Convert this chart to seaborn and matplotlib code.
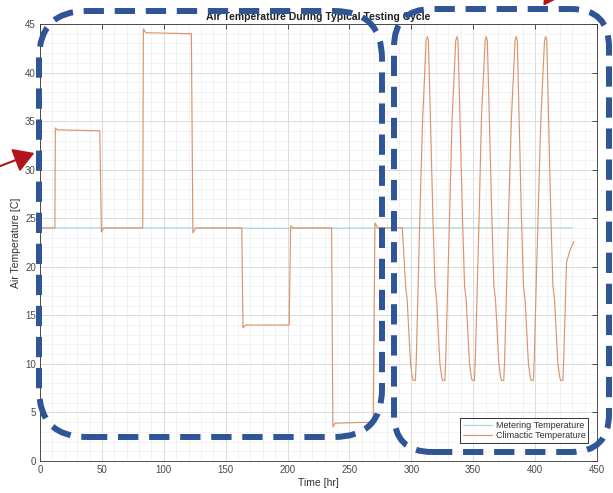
import numpy as np
import pandas as pd
import matplotlib
matplotlib.use("Agg")
import matplotlib.pyplot as plt
import seaborn as sns
from matplotlib.patches import FancyBboxPatch, FancyArrowPatch
from matplotlib.transforms import IdentityTransform
from matplotlib.ticker import MultipleLocator

# ---------------- data ----------------
series_labels = ["Metering Temperature", "Climactic Temperature"]

metering_time = [0.0, 100.0, 200.0, 300.0, 430.0]
metering_temp = [24.0, 24.0, 23.95, 24.0, 24.0]

climactic_time = [
    0.0, 12.0, 12.4, 14.0, 48.3, 49.6, 51.5, 83.0, 83.5, 85.5,
    122.3, 123.5, 126.0, 163.0, 164.0, 166.0, 201.3, 202.5, 205.0,
    235.6, 236.6, 238.5, 269.2, 270.6, 273.0, 292.7,
    295.4, 296.6, 299.4, 300.8, 301.5, 303.3, 304.0, 306.8, 309.1, 312.0, 312.9, 313.8,
    317.5, 319.1, 320.4, 323.1, 324.6, 325.3, 327.1, 327.8, 330.8, 332.9, 335.9, 336.8, 337.7,
    341.4, 343.0, 344.3, 347.0, 348.5, 349.2, 351.0, 351.7, 354.7, 356.6, 359.6, 360.5, 361.4,
    365.1, 366.7, 368.0, 370.7, 372.2, 372.9, 374.7, 375.4, 378.4, 380.8, 383.8, 384.7, 385.6,
    389.0, 390.6, 391.9, 394.6, 396.1, 396.8, 398.6, 399.3, 402.3, 404.6, 407.6, 408.5, 409.4,
    412.8, 414.4, 415.7, 418.4, 419.9, 420.6, 422.4, 423.1, 425.4, 428.5, 431.3,
]
climactic_temp = [
    24.0, 24.0, 34.3, 34.1, 34.0, 23.6, 24.0, 24.0, 44.5, 44.1,
    44.0, 23.5, 24.0, 24.0, 13.7, 14.0, 14.0, 24.2, 24.0,
    24.0, 3.5, 3.9, 4.0, 24.5, 24.0, 24.0,
    18.0, 16.6, 10.0, 8.6, 8.3, 8.3, 10.5, 24.8, 35.1, 43.3, 43.7, 43.3,
    24.8, 18.0, 16.6, 10.0, 8.6, 8.3, 8.3, 10.5, 24.8, 35.1, 43.3, 43.7, 43.3,
    24.8, 18.0, 16.6, 10.0, 8.6, 8.3, 8.3, 10.5, 24.8, 35.1, 43.3, 43.7, 43.3,
    24.8, 18.0, 16.6, 10.0, 8.6, 8.3, 8.3, 10.5, 24.8, 35.1, 43.3, 43.7, 43.3,
    24.8, 18.0, 16.6, 10.0, 8.6, 8.3, 8.3, 10.5, 24.8, 35.1, 43.3, 43.7, 43.3,
    24.8, 18.0, 16.6, 10.0, 8.6, 8.3, 8.3, 10.5, 20.5, 21.8, 22.6,
]

x_ticks = [0, 50, 100, 150, 200, 250, 300, 350, 400, 450]
y_ticks = [0, 5, 10, 15, 20, 25, 30, 35, 40, 45]

title_text = "Air Temperature During Typical Testing Cycle"
x_label = "Time [hr]"
y_label = "Air Temperature [C]"

# ---------------- style ----------------
sns.set_theme(style="white")
plt.rcParams['font.family'] = ['Liberation Sans', 'DejaVu Sans']

W, H = 613, 493
fig = plt.figure(figsize=(W / 100, H / 100), dpi=100)
fig.patch.set_facecolor("white")
ax = fig.add_axes([40 / W, 1 - 461 / H, 557 / W, 437 / H])

df_m = pd.DataFrame({"time": metering_time, "temp": metering_temp})
df_c = pd.DataFrame({"time": climactic_time, "temp": climactic_temp})

sns.lineplot(data=df_m, x="time", y="temp", ax=ax, color="#a3d3df", lw=0.85,
             estimator=None, sort=False, label=series_labels[0])
sns.lineplot(data=df_c, x="time", y="temp", ax=ax, color="#dc956b", lw=0.85,
             estimator=None, sort=False, label=series_labels[1])

ax.set_xlim(0, 450)
ax.set_ylim(0, 45)
ax.set_xticks(x_ticks)
ax.set_yticks(y_ticks)
ax.xaxis.set_minor_locator(MultipleLocator(10))
ax.yaxis.set_minor_locator(MultipleLocator(1))
ax.grid(which="major", color="#d6d6d6", lw=0.6)
ax.grid(which="minor", color="#eeeeee", lw=0.5)
ax.set_axisbelow(True)

ax.tick_params(which="major", direction="in", top=True, right=True, length=3.5,
               width=0.6, color="#333333", labelsize=7, labelcolor="#4a4a4a", pad=3)
ax.tick_params(which="minor", length=0)
for s in ax.spines.values():
    s.set_color("#333333")
    s.set_linewidth(0.6)

ax.set_xlabel(x_label, fontsize=7.5, color="#303030", labelpad=2)
ax.set_ylabel(y_label, fontsize=7.5, color="#303030", labelpad=3)
ax.set_title(title_text, fontsize=7.5, fontweight="bold", color="#202020", pad=3)

leg = ax.legend(loc="lower right", bbox_to_anchor=((588 - 40) / 557, (461 - 443) / 437),
                borderaxespad=0, fontsize=6.5, frameon=True, fancybox=False,
                edgecolor="black", handlelength=3.2, labelspacing=0.15,
                borderpad=0.3, handletextpad=0.4)
leg.get_frame().set_linewidth(0.7)
for t in leg.get_texts():
    t.set_color("#303030")

# ---------------- annotation overlays (pixel coordinates) ----------------
def box(x0, y0, x1, y1, r):
    p = FancyBboxPatch((x0, H - y1), x1 - x0, y1 - y0,
                       boxstyle=f"round,pad=0,rounding_size={r}",
                       transform=IdentityTransform(), fill=False,
                       edgecolor="#2f5597", lw=4.3, linestyle=(0, (3.4, 1.8)),
                       clip_on=False, zorder=10)
    p.set_capstyle("butt")
    fig.add_artist(p)

box(39, 11, 382, 437, 48)
box(394, 9, 609, 452, 38)

def arrow(xa, ya, xb, yb):
    a = FancyArrowPatch((xa, H - ya), (xb, H - yb), transform=IdentityTransform(),
                        arrowstyle="-|>,head_length=5,head_width=3", color="#b3141b",
                        lw=1.5, mutation_scale=2.5, clip_on=False, zorder=11)
    fig.add_artist(a)

arrow(-5, 168, 37, 152)
arrow(556, -14, 542, 8)

fig.savefig("out.png", dpi=100)
